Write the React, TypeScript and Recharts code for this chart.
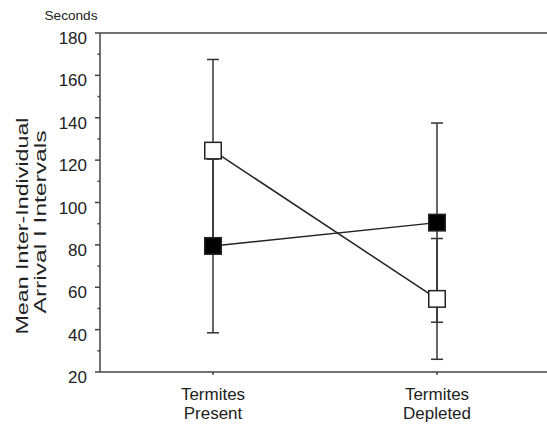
import { LineChart, Line, XAxis, YAxis, ErrorBar, ReferenceLine } from 'recharts';

const categories = ['Termites Present', 'Termites Depleted'];
const openValues = [124.5, 54.5];
const openErrors = [43, 28.5];
const filledValues = [79.5, 90.5];
const filledErrors = [41, 47];
const yTicks = [20, 30, 40, 50, 60, 70, 80, 90, 100, 110, 120, 130, 140, 150, 160, 170, 180];

const data = categories.map((name, i) => ({
  name,
  open: openValues[i],
  openErr: openErrors[i],
  filled: filledValues[i],
  filledErr: filledErrors[i],
}));

const FONT = '"Liberation Sans", Arial, sans-serif';
const INK = '#222';
const AXIS = '#444';

const squareDot = (fill: string) => (props: any) => {
  const { cx, cy, index } = props;
  if (cx == null || cy == null) return <g key={index} />;
  return (
    <rect
      key={index}
      x={cx - 8.25}
      y={cy - 8.25}
      width={16.5}
      height={16.5}
      fill={fill}
      stroke={INK}
      strokeWidth={1.5}
    />
  );
};

const YTick = (props: any) => {
  const { x, y, payload } = props;
  const major = payload.value % 20 === 0;
  return (
    <g>
      <line x1={x - (major ? 5 : 2.5)} x2={x} y1={y} y2={y} stroke={AXIS} strokeWidth={1.5} />
      {major && (
        <text x={x - 13} y={y + 11} textAnchor="end" fontSize={17} fontFamily={FONT} fill={INK}>
          {payload.value}
        </text>
      )}
    </g>
  );
};

const XTick = (props: any) => {
  const { x, y, payload } = props;
  const [top, ...rest] = String(payload.value).split(' ');
  return (
    <g>
      <line x1={x} x2={x} y1={y} y2={y + 3} stroke={AXIS} strokeWidth={1.5} />
      <text x={x} y={y + 28} textAnchor="middle" fontSize={17} fontFamily={FONT} fill={INK}>
        {top}
      </text>
      <text x={x} y={y + 47} textAnchor="middle" fontSize={17} fontFamily={FONT} fill={INK}>
        {rest.join(' ')}
      </text>
    </g>
  );
};

export default function App() {
  return (
    <div style={{ position: 'absolute', left: 0, top: 0, width: 547, height: 424, background: '#fff' }}>
      <LineChart width={547} height={424} data={data} margin={{ top: 33, right: 0, left: 0, bottom: 0 }}>
        <XAxis
          dataKey="name"
          height={52}
          interval={0}
          padding={{ left: 113, right: 110 }}
          axisLine={{ stroke: AXIS, strokeWidth: 1.5 }}
          tickLine={false}
          tickSize={0}
          tickMargin={0}
          tick={<XTick />}
        />
        <YAxis
          type="number"
          domain={[20, 180]}
          ticks={yTicks}
          interval={0}
          width={100}
          axisLine={{ stroke: AXIS, strokeWidth: 1.5 }}
          tickLine={false}
          tickSize={0}
          tickMargin={0}
          tick={<YTick />}
        />
        <ReferenceLine y={180} stroke={AXIS} strokeWidth={1.5} />
        <Line
          dataKey="filled"
          type="linear"
          stroke={INK}
          strokeWidth={1.5}
          dot={squareDot('#000')}
          activeDot={false}
          isAnimationActive={false}
        >
          <ErrorBar dataKey="filledErr" direction="y" width={6} stroke="#333" strokeWidth={1.5} isAnimationActive={false} />
        </Line>
        <Line
          dataKey="open"
          type="linear"
          stroke={INK}
          strokeWidth={1.5}
          dot={squareDot('#fff')}
          activeDot={false}
          isAnimationActive={false}
        >
          <ErrorBar dataKey="openErr" direction="y" width={6} stroke="#333" strokeWidth={1.5} isAnimationActive={false} />
        </Line>
      </LineChart>
      <svg
        width={547}
        height={424}
        style={{ position: 'absolute', left: 0, top: 0, pointerEvents: 'none' }}
      >
        <text x={71} y={20} textAnchor="middle" fontSize={13} fontFamily={FONT} fill={INK} textLength={53} lengthAdjust="spacingAndGlyphs">
          Seconds
        </text>
        <text
          transform="translate(28,226) rotate(-90)"
          textAnchor="middle"
          fontSize={16}
          fontFamily={FONT}
          fill={INK}
          textLength={217}
          lengthAdjust="spacingAndGlyphs"
        >
          Mean Inter-Individual
        </text>
        <text
          transform="translate(46,222) rotate(-90)"
          textAnchor="middle"
          fontSize={16}
          fontFamily={FONT}
          fill={INK}
          textLength={183}
          lengthAdjust="spacingAndGlyphs"
        >
          Arrival I Intervals
        </text>
      </svg>
    </div>
  );
}
